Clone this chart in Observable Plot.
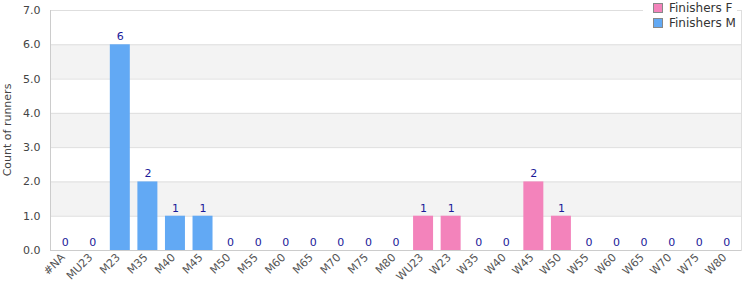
<!DOCTYPE html>
<html>
<head>
<meta charset="utf-8">
<script src="https://cdn.jsdelivr.net/npm/d3@7"></script>
<script src="https://cdn.jsdelivr.net/npm/@observablehq/plot@0.6"></script>
<style>
body{margin:0;background:#fff;font-family:"DejaVu Sans",sans-serif;}
#wrap{position:relative;width:750px;height:300px;overflow:hidden;}
.legend{position:absolute;left:643px;top:0;width:94px;height:33px;background:#fff;font-size:12px;color:#333;}
.item{position:absolute;left:10px;height:14px;line-height:14px;white-space:nowrap;}
.sw{display:inline-block;width:8px;height:8px;border:1px solid #888;vertical-align:middle;margin-right:6px;position:relative;top:-1px;}
</style>
</head>
<body>
<div id="wrap"></div>
<script>
const menCategories = ["#NA","MU23","M23","M35","M40","M45","M50","M55","M60","M65","M70","M75","M80"];
const menCounts = [0,0,6,2,1,1,0,0,0,0,0,0,0];
const womenCategories = ["WU23","W23","W35","W40","W45","W50","W55","W60","W65","W70","W75","W80"];
const womenCounts = [1,1,0,0,2,1,0,0,0,0,0,0];
const seriesNames = ["Finishers F","Finishers M"];
const seriesColors = ["#f383bb","#62a9f4"];
const yTicks = [0,1,2,3,4,5,6,7];
const shadedBands = [[1,2],[3,4],[5,6]];

const categories = menCategories.concat(womenCategories);
const table = [
  ...menCategories.map((c,i)=>({category:c,count:menCounts[i],series:"Finishers M"})),
  ...womenCategories.map((c,i)=>({category:c,count:womenCounts[i],series:"Finishers F"}))
];

const chart = Plot.plot({
  width:750,height:300,
  marginLeft:50,marginRight:9,marginTop:10,marginBottom:50,
  style:{fontFamily:"DejaVu Sans",fontSize:"11px",background:"#fff"},
  x:{domain:categories,paddingInner:0.275,paddingOuter:0.17,round:false,label:null},
  y:{domain:[0,7],label:null},
  color:{domain:seriesNames,range:seriesColors},
  marks:[
    Plot.rect(shadedBands,{y1:d=>d[0],y2:d=>d[1],fill:"#f3f3f3"}),
    Plot.ruleY(yTicks,{stroke:"#dedede"}),
    Plot.frame({stroke:"#dedede"}),
    Plot.ruleY([0],{stroke:"#cccccc"}),
    Plot.barY(table,{x:"category",y:"count",fill:"series"}),
    Plot.text(table,{x:"category",y:"count",text:d=>String(d.count),dy:-8,fill:"#1a1a99",fontSize:11}),
    Plot.axisY({ticks:yTicks,tickSize:0,tickPadding:10,tickFormat:d=>d.toFixed(1),fill:"#444",label:null}),
    Plot.axisX({tickRotate:-45,tickSize:0,tickPadding:5,dx:-2,fill:"#555",label:null})
  ]
});
const wrap = document.getElementById("wrap");
wrap.appendChild(chart);

// left axis line
d3.select(chart).append("line").attr("x1",50.5).attr("x2",50.5).attr("y1",10).attr("y2",250).attr("stroke","#cccccc");
// y axis title
d3.select(chart).append("text").text("Count of runners")
  .attr("transform","translate(7,130) rotate(-90)")
  .attr("text-anchor","middle").attr("dominant-baseline","central")
  .attr("fill","#444").style("font-family","DejaVu Sans").style("font-size","11px");

// legend
const legend = document.createElement("div");
legend.className="legend";
seriesNames.forEach((n,i)=>{
  const it=document.createElement("div");
  it.className="item";
  it.style.top=(1+i*15)+"px";
  const sw=document.createElement("span");
  sw.className="sw";sw.style.background=seriesColors[i];
  it.appendChild(sw);
  it.appendChild(document.createTextNode(n));
  legend.appendChild(it);
});
wrap.appendChild(legend);
</script>
</body>
</html>
